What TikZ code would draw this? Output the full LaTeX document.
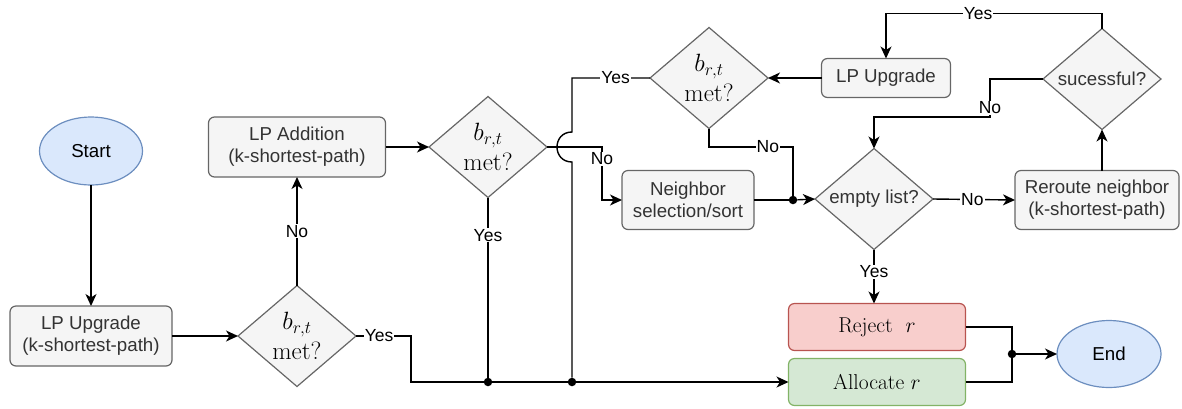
\RequirePackage{fix-cm}
\documentclass[tikz,border=0pt]{standalone}
\usepackage{fontspec}
\newfontfamily\sansf{Liberation Sans}
\usetikzlibrary{shapes.geometric,arrows.meta}
\definecolor{gfill}{HTML}{F5F5F5}
\definecolor{gline}{HTML}{666666}
\definecolor{gtext}{HTML}{333333}
\definecolor{bfill}{HTML}{DAE8FC}
\definecolor{bline}{HTML}{6C8EBF}
\definecolor{rfill}{HTML}{F8CECC}
\definecolor{rline}{HTML}{B85450}
\definecolor{afill}{HTML}{D5E8D4}
\definecolor{aline}{HTML}{82B366}
\begin{document}
\begin{tikzpicture}[x=1pt,y=-1pt,
  nbase/.style={outer sep=0pt, inner sep=0pt, line width=1.2pt},
  proc/.style={nbase, rectangle, rounded corners=6pt, draw=gline, fill=gfill, text=gtext, font=\sansf\fontsize{18.7}{22}\selectfont, align=center},
  dec/.style={nbase, diamond, aspect=1.17, draw=gline, fill=gfill, minimum width=118pt, minimum height=101pt, align=center, font=\fontsize{25}{30}\selectfont},
  sdec/.style={dec, text=gtext, font=\sansf\fontsize{18.7}{22}\selectfont},
  term/.style={nbase, ellipse, draw=bline, fill=bfill, font=\sansf\fontsize{18.7}{22}\selectfont},
  result/.style={nbase, rectangle, rounded corners=6pt, minimum width=177pt, minimum height=47pt, font=\fontsize{21.5}{25}\selectfont},
  wire/.style={line width=1.4pt},
  conn/.style={line width=1.4pt, -{Stealth[length=12pt,width=11pt,inset=3.5pt]}},
  lbl/.style={fill=white, inner sep=1pt, font=\sansf\fontsize{17.5}{20}\selectfont},
  jdot/.style={circle, fill=black, inner sep=0pt, minimum size=8.5pt},
]
\useasboundingbox (0,0) rectangle (1182,408);

% nodes
\node[term, minimum width=103pt, minimum height=68pt] (start) at (91,151) {Start};
\node[proc, minimum width=162pt, minimum height=60pt] (lpu) at (91,336) {LP Upgrade\\(k-shortest-path)};
\node[dec] (d1) at (297,336) {$b_{r,t}$\\$\mathrm{met?}$};
\node[proc, minimum width=177pt, minimum height=60pt] (lpa) at (297,147) {LP Addition\\(k-shortest-path)};
\node[dec] (d2) at (488,147) {$b_{r,t}$\\$\mathrm{met?}$};
\node[dec] (d3) at (709,78) {$b_{r,t}$\\$\mathrm{met?}$};
\node[proc, minimum width=129pt, minimum height=39pt] (lpu2) at (886,78) {LP Upgrade};
\node[sdec] (suc) at (1102,79) {sucessful?};
\node[proc, minimum width=132pt, minimum height=59pt] (nb) at (688,200) {Neighbor\\selection/sort};
\node[sdec] (el) at (874,199) {empty list?};
\node[proc, minimum width=164pt, minimum height=59pt] (rr) at (1097,200) {Reroute neighbor\\(k-shortest-path)};
\node[result, draw=rline, fill=rfill] (rej) at (877,327) {Reject\ \ $r$};
\node[result, draw=aline, fill=afill] (alloc) at (877,382) {Allocate $r$};
\node[term, minimum width=104pt, minimum height=67pt] (end) at (1109,354) {End};

% junction dots
\node[jdot] (j1) at (488,382) {};
\node[jdot] (j2) at (572,382) {};
\node[jdot] (j3) at (793,200) {};
\node[jdot] (j4) at (1012,354) {};

% connectors
\draw[conn] (start) -- (lpu);
\draw[conn] (lpu) -- (d1);
\draw[conn] (d1) -- node[lbl]{No} (lpa);
\draw[conn] (d1.east) -- node[lbl,pos=0.42]{Yes} ++(55,0) |- (alloc.west);
\draw[conn] (lpa) -- (d2);
\draw[wire] (d2.south) -- node[lbl,pos=0.21]{Yes} (j1);
\draw[conn] (d2.east) -- ++(55,0) |- node[lbl,pos=0.11]{No} (nb.west);
\draw[wire] (d3.west) -- node[lbl,pos=0.44]{Yes} (572,78) -- (572,132)
  .. controls (552,132) and (552,162) .. (572,162) -- (j2);
\draw[conn] (lpu2) -- (d3);
\draw[wire] (d3.south) |- node[lbl,pos=0.85]{No} (j3.center |- 0,147) -- (j3);
\draw[wire] (nb.east) -- (j3);
\draw[conn] (j3) -- (el.west);
\draw[conn] (el.east) -- node[lbl,pos=0.48]{No} (rr.west);
\draw[conn] (suc.south |- rr.north) -- (suc.south);
\draw[conn] (suc.north) -- ++(0,-15) -| node[lbl,pos=0.287]{Yes} (lpu2.north);
\draw[conn] (suc.west) -- ++(-53,0) -- node[lbl,pos=0.76]{No} ++(0,38) -| (el.north);
\draw[conn] (el.south) -- node[lbl,pos=0.41]{Yes} (el.south |- rej.north);
\draw[wire] (rej.east) -| (j4);
\draw[wire] (alloc.east) -| (j4);
\draw[conn] (j4) -- (end);
\end{tikzpicture}
\end{document}
